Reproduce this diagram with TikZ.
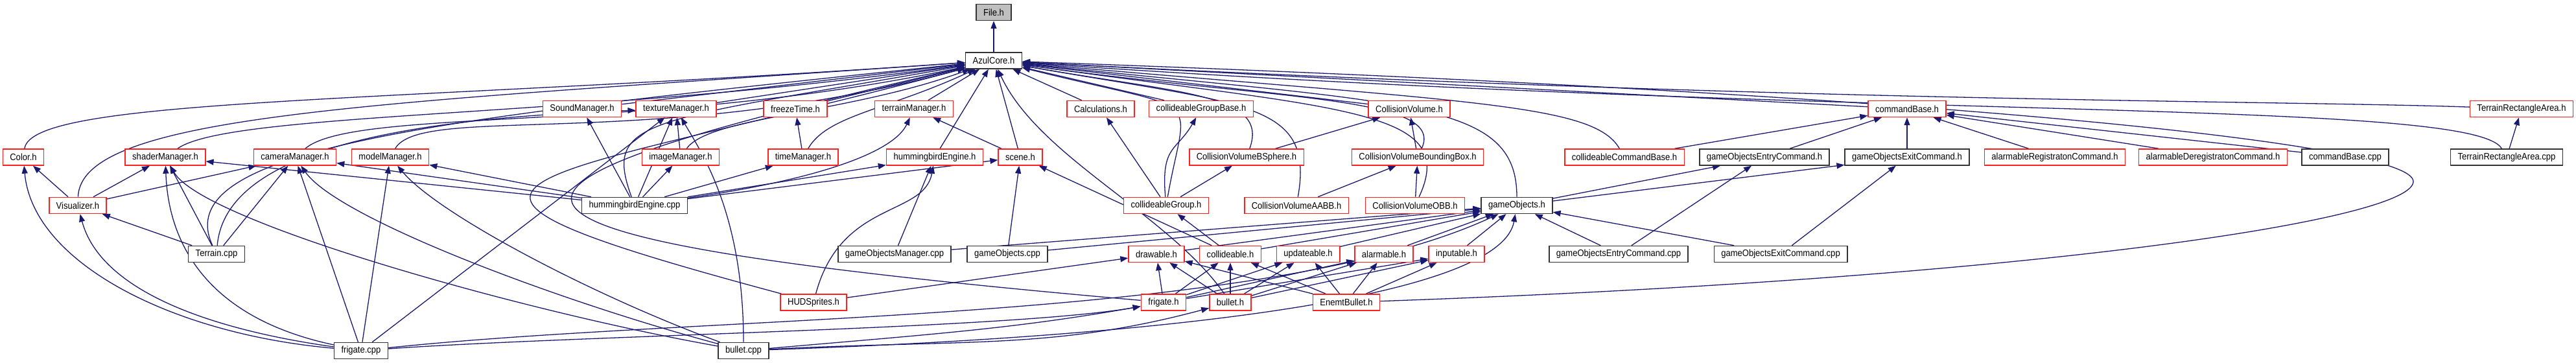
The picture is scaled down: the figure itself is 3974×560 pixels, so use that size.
\documentclass[tikz,border=0pt]{standalone}
\usepackage{fontspec}
\setmainfont{Liberation Sans}[FakeStretch=0.9]
\usetikzlibrary{arrows.meta}
\pgfdeclarelayer{edgelayer}
\pgfdeclarelayer{nodelayer}
\pgfsetlayers{edgelayer,nodelayer,main}
\definecolor{edgeblue}{HTML}{191970}
\definecolor{truncred}{HTML}{FF2020}
\tikzstyle{edge}=[draw=edgeblue, line width=0.13pt, -{Triangle[length=1.2pt,width=0.9pt]}]
\tikzstyle{file}=[rectangle, draw=black!80, fill=white, line width=0.15pt, inner xsep=1.1pt, inner ysep=0pt, minimum height=2.5pt, font=\fontsize{1.45}{1.7}\selectfont]
\tikzstyle{trunc}=[file, draw=truncred]
\tikzstyle{root}=[file, fill=black!25]

\begin{document}
\begin{tikzpicture}[x=0.1pt, y=0.1pt]
				\useasboundingbox (0, 0) rectangle (3974, 560);
				\begin{pgfonlayer}{nodelayer}
					\node [style=root] (1) at (1533, 541) {File.h};
					\node [style=file] (2) at (1533, 466.5) {AzulCore.h};
					\node [style=trunc] (3) at (898, 392) {SoundManager.h};
					\node [style=trunc] (4) at (1043, 392) {textureManager.h};
					\node [style=trunc] (5) at (1227, 392) {freezeTime.h};
					\node [style=trunc] (6) at (1410, 392) {terrainManager.h};
					\node [style=trunc] (7) at (1698, 392) {Calculations.h};
					\node [style=trunc] (8) at (1853, 392) {collideableGroupBase.h};
					\node [style=trunc] (9) at (2174, 392) {CollisionVolume.h};
					\node [style=trunc] (10) at (2942, 392) {commandBase.h};
					\node [style=trunc] (11) at (3890, 392) {TerrainRectangleArea.h};
					\node [style=trunc] (12) at (36, 317.5) {Color.h};
					\node [style=trunc] (13) at (255, 317.5) {shaderManager.h};
					\node [style=trunc] (14) at (455, 317.5) {cameraManager.h};
					\node [style=trunc] (15) at (602, 317.5) {modelManager.h};
					\node [style=trunc] (16) at (1050, 317.5) {imageManager.h};
					\node [style=trunc] (17) at (1239, 317.5) {timeManager.h};
					\node [style=trunc] (18) at (1442, 317.5) {hummingbirdEngine.h};
					\node [style=trunc] (19) at (1574, 317.5) {scene.h};
					\node [style=trunc] (20) at (1923, 317.5) {CollisionVolumeBSphere.h};
					\node [style=trunc] (21) at (2187, 317.5) {CollisionVolumeBoundingBox.h};
					\node [style=trunc] (22) at (2506, 317.5) {collideableCommandBase.h};
					\node [style=file] (23) at (2722, 317.5) {gameObjectsEntryCommand.h};
					\node [style=file] (24) at (2942, 317.5) {gameObjectsExitCommand.h};
					\node [style=trunc] (25) at (3170, 317.5) {alarmableRegistratonCommand.h};
					\node [style=trunc] (26) at (3414, 317.5) {alarmableDeregistratonCommand.h};
					\node [style=file] (27) at (3618, 317.5) {commandBase.cpp};
					\node [style=file] (28) at (3867, 317.5) {TerrainRectangleArea.cpp};
					\node [style=trunc] (29) at (120, 243) {Visualizer.h};
					\node [style=file] (30) at (979, 243) {hummingbirdEngine.cpp};
					\node [style=trunc] (31) at (1799, 243) {collideableGroup.h};
					\node [style=trunc] (32) at (2000, 243) {CollisionVolumeAABB.h};
					\node [style=trunc] (33) at (2183, 243) {CollisionVolumeOBB.h};
					\node [style=file] (34) at (2340, 243) {gameObjects.h};
					\node [style=file] (35) at (334, 168) {Terrain.cpp};
					\node [style=file] (36) at (1380, 168) {gameObjectsManager.cpp};
					\node [style=file] (37) at (1554, 168) {gameObjects.cpp};
					\node [style=trunc] (38) at (1784, 168) {drawable.h};
					\node [style=trunc] (39) at (1898, 168) {collideable.h};
					\node [style=trunc] (40) at (2018, 168) {updateable.h};
					\node [style=trunc] (41) at (2135, 168) {alarmable.h};
					\node [style=trunc] (42) at (2247, 168) {inputable.h};
					\node [style=file] (43) at (2497, 168) {gameObjectsEntryCommand.cpp};
					\node [style=file] (44) at (2747, 168) {gameObjectsExitCommand.cpp};
					\node [style=trunc] (45) at (1255, 93.5) {HUDSprites.h};
					\node [style=trunc] (46) at (1795, 93.5) {frigate.h};
					\node [style=trunc] (47) at (1898, 93.5) {bullet.h};
					\node [style=trunc] (48) at (2077, 93.5) {EnemtBullet.h};
					\node [style=file] (49) at (557, 19) {frigate.cpp};
					\node [style=file] (50) at (1147, 19) {bullet.cpp};
					\coordinate (bendE) at (3723, 280);
				\end{pgfonlayer}
				\begin{pgfonlayer}{edgelayer}
					\draw [style=edge] (2) to (1);
					\draw [style=edge] (12) to[out=82, in=184, out distance=8pt, in distance=90pt] (2);
					\draw [style=edge] (29) to[out=88, in=184, out distance=13pt, in distance=90pt] (2);
					\draw [style=edge] (35) to[out=115, in=186, out distance=17pt, in distance=80pt] (2);
					\draw [style=edge] (13) to[out=35, in=188, out distance=10pt, in distance=60pt] (2);
					\draw [style=edge] (14) to[out=40, in=192, out distance=10pt, in distance=50pt] (2);
					\draw [style=edge] (15) to[out=60, in=195, out distance=8pt, in distance=50pt] (2);
					\draw [style=edge] (3) to (2);
					\draw [style=edge] (4) to (2);
					\draw [style=edge] (5) to (2);
					\draw [style=edge] (16) to[out=55, in=200, out distance=6pt, in distance=20pt] (2);
					\draw [style=edge] (17) to[out=60, in=205, out distance=6pt, in distance=15pt] (2);
					\draw [style=edge] (30) to[out=110, in=190, out distance=13pt, in distance=50pt] (2);
					\draw [style=edge] (45) to[out=165, in=195, out distance=70pt, in distance=70pt] (2);
					\draw [style=edge] (46) to[out=175, in=193, out distance=120pt, in distance=80pt] (2);
					\draw [style=edge] (6) to (2);
					\draw [style=edge] (18) to (2);
					\draw [style=edge] (19) to (2);
					\draw [style=edge] (7) to (2);
					\draw [style=edge] (8) to (2);
					\draw [style=edge] (47) to[out=125, in=-65, out distance=15pt, in distance=15pt] (2);
					\draw [style=edge] (9) to (2);
					\draw [style=edge] (10) to (2);
					\draw [style=edge] (11) to[out=178, in=-3, out distance=30pt, in distance=120pt] (2);
					\draw [style=edge] (28) to[out=120, in=-4, out distance=9pt, in distance=130pt] (2);
					\draw [style=edge] (20) to[out=70, in=-10, out distance=9pt, in distance=25pt] (2);
					\draw [style=edge] (21) to[out=65, in=-8, out distance=9pt, in distance=40pt] (2);
					\draw [style=edge] (31) to[out=80, in=-14, out distance=17pt, in distance=30pt] (2);
					\draw [style=edge] (32) to[out=80, in=-10, out distance=15pt, in distance=35pt] (2);
					\draw [style=edge] (33) to[out=65, in=-8, out distance=15pt, in distance=50pt] (2);
					\draw [style=edge] (34) to[out=90, in=-6, out distance=15pt, in distance=60pt] (2);
					\draw [style=edge] (22) to[out=120, in=-5, out distance=8pt, in distance=70pt] (2);
					\draw [style=edge] (48) to[out=2, in=-90, out distance=100pt, in distance=6pt] (bendE) to[out=90, in=-2, out distance=6pt, in distance=140pt] (2);
					\draw [style=edge] (16) to (4);
					\draw [style=edge] (17) to (5);
					\draw [style=edge] (19) to (6);
					\draw [style=edge] (20) to (9);
					\draw [style=edge] (21) to (9);
					\draw [style=edge] (22) to (10);
					\draw [style=edge] (23) to (10);
					\draw [style=edge] (24) to (10);
					\draw [style=edge] (25) to (10);
					\draw [style=edge] (26) to (10);
					\draw [style=edge] (27) to (10);
					\draw [style=edge] (28) to (11);
					\draw [style=edge] (29) to (12);
					\draw [style=edge] (29) to (13);
					\draw [style=edge] (29) to (14);
					\draw [style=edge] (35) to (29);
					\draw [style=edge] (35) to (13);
					\draw [style=edge] (35) to (14);
					\draw [style=edge] (35) to[out=85, in=182, out distance=15pt, in distance=35pt] (4);
					\draw [style=edge] (49) to[out=175, in=-85, out distance=25pt, in distance=15pt] (12);
					\draw [style=edge] (49) to[out=172, in=-75, out distance=20pt, in distance=12pt] (29);
					\draw [style=edge] (49) to[out=168, in=-88, out distance=20pt, in distance=12pt] (13);
					\draw [style=edge] (49) to (14);
					\draw [style=edge] (49) to (15);
					\draw [style=edge] (49) to (4);
					\draw [style=edge] (49) to[out=4, in=190, out distance=30pt, in distance=20pt] (46);
					\draw [style=edge] (49) to[out=6, in=205, out distance=50pt, in distance=40pt] (34);
					\draw [style=edge] (50) to[out=170, in=-60, out distance=30pt, in distance=10pt] (13);
					\draw [style=edge] (50) to[out=165, in=-55, out distance=25pt, in distance=10pt] (14);
					\draw [style=edge] (50) to[out=160, in=-50, out distance=20pt, in distance=10pt] (15);
					\draw [style=edge] (50) to[out=90, in=-60, out distance=20pt, in distance=6pt] (4);
					\draw [style=edge] (50) to[out=5, in=190, out distance=25pt, in distance=20pt] (46);
					\draw [style=edge] (50) to[out=3, in=195, out distance=30pt, in distance=25pt] (47);
					\draw [style=edge] (50) to[out=2, in=-100, out distance=70pt, in distance=12pt] (34);
					\draw [style=edge] (30) to (3);
					\draw [style=edge] (30) to (4);
					\draw [style=edge] (30) to (16);
					\draw [style=edge] (30) to (17);
					\draw [style=edge] (30) to[out=8, in=-115, out distance=20pt, in distance=6pt] (6);
					\draw [style=edge] (30) to (18);
					\draw [style=edge] (30) to (19);
					\draw [style=edge] (30) to (13);
					\draw [style=edge] (30) to (14);
					\draw [style=edge] (30) to (15);
					\draw [style=edge] (31) to[out=95, in=-120, out distance=8pt, in distance=6pt] (8);
					\draw [style=edge] (31) to (7);
					\draw [style=edge] (31) to (20);
					\draw [style=edge] (32) to (21);
					\draw [style=edge] (33) to (21);
					\draw [style=edge] (34) to (23);
					\draw [style=edge] (34) to (24);
					\draw [style=edge] (36) to (18);
					\draw [style=edge] (36) to (34);
					\draw [style=edge] (37) to (19);
					\draw [style=edge] (37) to (34);
					\draw [style=edge] (38) to (34);
					\draw [style=edge] (39) to (31);
					\draw [style=edge] (39) to (19);
					\draw [style=edge] (39) to (34);
					\draw [style=edge] (40) to (34);
					\draw [style=edge] (41) to (34);
					\draw [style=edge] (42) to (34);
					\draw [style=edge] (43) to (34);
					\draw [style=edge] (43) to (23);
					\draw [style=edge] (44) to (34);
					\draw [style=edge] (44) to (24);
					\draw [style=edge] (45) to[out=75, in=-100, out distance=15pt, in distance=8pt] (18);
					\draw [style=edge] (45) to (38);
					\draw [style=edge] (46) to (38);
					\draw [style=edge] (46) to (39);
					\draw [style=edge] (46) to (40);
					\draw [style=edge] (46) to (41);
					\draw [style=edge] (46) to (42);
					\draw [style=edge] (47) to (38);
					\draw [style=edge] (47) to (39);
					\draw [style=edge] (47) to (40);
					\draw [style=edge] (47) to (41);
					\draw [style=edge] (47) to (42);
					\draw [style=edge] (48) to (38);
					\draw [style=edge] (48) to (39);
					\draw [style=edge] (48) to (40);
					\draw [style=edge] (48) to (41);
					\draw [style=edge] (48) to (42);
				\end{pgfonlayer}
			\end{tikzpicture}
\end{document}
